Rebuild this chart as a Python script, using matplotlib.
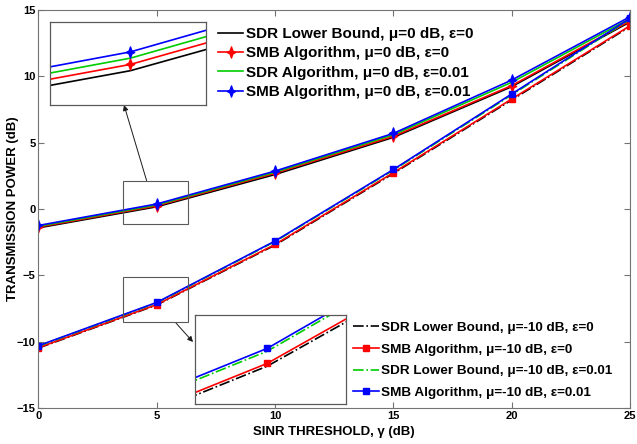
import matplotlib
matplotlib.use("Agg")
import matplotlib.pyplot as plt
from matplotlib.patches import Rectangle
from matplotlib.path import Path

plt.rcParams['font.family'] = ['Liberation Sans', 'DejaVu Sans']
plt.rcParams['font.weight'] = 'bold'

# ---------------- data ----------------
sinr = [0, 5, 10, 15, 20, 25]

# mu = 0 dB group
sdr_lb_mu0_e0 = [-1.42, 0.17, 2.60, 5.40, 9.22, 14.10]
smb_mu0_e0 = [-1.36, 0.24, 2.70, 5.48, 9.30, 14.17]
sdr_alg_mu0_e001 = [-1.30, 0.31, 2.78, 5.60, 9.55, 14.35]
smb_mu0_e001 = [-1.24, 0.38, 2.86, 5.70, 9.72, 14.49]

# mu = -10 dB group
sdr_lb_mum10_e0 = [-10.48, -7.23, -2.72, 2.68, 8.22, 13.75]
smb_mum10_e0 = [-10.45, -7.20, -2.67, 2.74, 8.29, 13.81]
sdr_lb_mum10_e001 = [-10.33, -7.07, -2.45, 2.93, 8.60, 14.30]
smb_mum10_e001 = [-10.30, -7.04, -2.41, 2.98, 8.67, 14.36]

labels_top = ['SDR Lower Bound, \u03bc=0 dB, \u03b5=0',
              'SMB Algorithm, \u03bc=0 dB, \u03b5=0',
              'SDR Algorithm, \u03bc=0 dB, \u03b5=0.01',
              'SMB Algorithm, \u03bc=0 dB, \u03b5=0.01']
labels_bot = ['SDR Lower Bound, \u03bc=-10 dB, \u03b5=0',
              'SMB Algorithm, \u03bc=-10 dB, \u03b5=0',
              'SDR Lower Bound, \u03bc=-10 dB, \u03b5=0.01',
              'SMB Algorithm, \u03bc=-10 dB, \u03b5=0.01']

xticks = [0, 5, 10, 15, 20, 25]
yticks = [-15, -10, -5, 0, 5, 10, 15]

# ---------------- styles ----------------
STAR = Path([(0, 1), (0.26, 0.26), (0.75, 0), (0.26, -0.26), (0, -1),
             (-0.26, -0.26), (-0.75, 0), (-0.26, 0.26), (0, 1)], closed=True)
top_series = [sdr_lb_mu0_e0, smb_mu0_e0, sdr_alg_mu0_e001, smb_mu0_e001]
top_styles = [dict(color='black', ls='-', marker=None),
              dict(color='#ff0000', ls='-', marker=STAR, ms=8),
              dict(color='#00cc00', ls='-', marker=None),
              dict(color='#0000ff', ls='-', marker=STAR, ms=8)]
bot_series = [sdr_lb_mum10_e0, smb_mum10_e0, sdr_lb_mum10_e001, smb_mum10_e001]
bot_styles = [dict(color='black', ls='-.', marker=None),
              dict(color='#ff0000', ls='-', marker='s', ms=4.5),
              dict(color='#00cc00', ls='-.', marker=None),
              dict(color='#0000ff', ls='-', marker='s', ms=4.5)]

fig = plt.figure(figsize=(6.37, 4.44), dpi=100)
ax = fig.add_axes([0.0604, 0.081, 0.9286, 0.8965])


def draw(a, lw=1.2):
    hs = []
    for y, st, lab in zip(top_series, top_styles, labels_top):
        h, = a.plot(sinr, y, color=st['color'], ls=st['ls'], marker=st['marker'],
                    ms=st.get('ms', 0), lw=lw, label=lab)
        hs.append(h)
    for y, st, lab in zip(bot_series, bot_styles, labels_bot):
        h, = a.plot(sinr, y, color=st['color'], ls=st['ls'], marker=st['marker'],
                    ms=st.get('ms', 0), lw=lw, label=lab)
        hs.append(h)
    return hs


hs = draw(ax)
ax.set_xlim(0, 25)
ax.set_ylim(-15, 15)
ax.set_xticks(xticks)
ax.set_yticks(yticks)
ax.tick_params(direction='in', top=True, right=True, length=4, labelsize=8,
               color='0.45', pad=2)
for lab in ax.get_xticklabels() + ax.get_yticklabels():
    lab.set_fontweight('bold')
for s in ax.spines.values():
    s.set_color('0.45')
ax.set_xlabel('SINR THRESHOLD, \u03b3 (dB)', fontsize=9.5, fontweight='bold', labelpad=4)
ax.set_ylabel('TRANSMISSION POWER (dB)', fontsize=9.5, fontweight='bold')
ax.yaxis.set_label_coords(-0.0325, 0.5)

leg1 = ax.legend(hs[:4], labels_top, loc='upper left', bbox_to_anchor=(0.328, 0.96),
                 bbox_transform=fig.transFigure, frameon=False,
                 handlelength=1.65, handletextpad=0.2, labelspacing=0.35,
                 borderpad=0.1, prop={'weight': 'bold', 'size': 11})
ax.add_artist(leg1)
leg2 = ax.legend(hs[4:], labels_bot, loc='upper left', bbox_to_anchor=(0.5407, 0.294),
                 bbox_transform=fig.transFigure, frameon=True, fancybox=False,
                 edgecolor='none', facecolor='white', framealpha=1,
                 handlelength=1.93, handletextpad=0.2, labelspacing=0.69,
                 borderpad=0.1, prop={'weight': 'bold', 'size': 9.7})

# zoom boxes on main axes
ax.add_patch(Rectangle((3.58, -1.13), 2.75, 3.27, fill=False, ec='0.35', lw=0.8, zorder=5))
ax.add_patch(Rectangle((3.58, -8.51), 2.75, 3.41, fill=False, ec='0.35', lw=0.8, zorder=5))

# insets
ins1 = fig.add_axes([0.0785, 0.7635, 0.2444, 0.1876])
draw(ins1)
ins1.set_xlim(4.484, 5.484)
ins1.set_ylim(-0.213, 0.717)

ins2 = fig.add_axes([0.3061, 0.0901, 0.2366, 0.2005])
draw(ins2)
ins2.set_xlim(4.52, 5.52)
ins2.set_ylim(-7.634, -6.684)

for a in (ins1, ins2):
    a.set_xticks([])
    a.set_yticks([])
    for s in a.spines.values():
        s.set_color('0.35')
        s.set_linewidth(0.9)

# arrows
ax.annotate('', xy=(124 / 637, 1 - 105 / 444), xycoords='figure fraction',
            xytext=(4.57, 2.14), textcoords='data',
            arrowprops=dict(arrowstyle='-|>', color='0.1', lw=0.7,
                            mutation_scale=8, shrinkA=0, shrinkB=0))
ax.annotate('', xy=(193 / 637, 1 - 342 / 444), xycoords='figure fraction',
            xytext=(5.81, -8.59), textcoords='data',
            arrowprops=dict(arrowstyle='-|>', color='0.1', lw=0.7,
                            mutation_scale=8, shrinkA=0, shrinkB=0))

fig.savefig('out.png', dpi=100)
